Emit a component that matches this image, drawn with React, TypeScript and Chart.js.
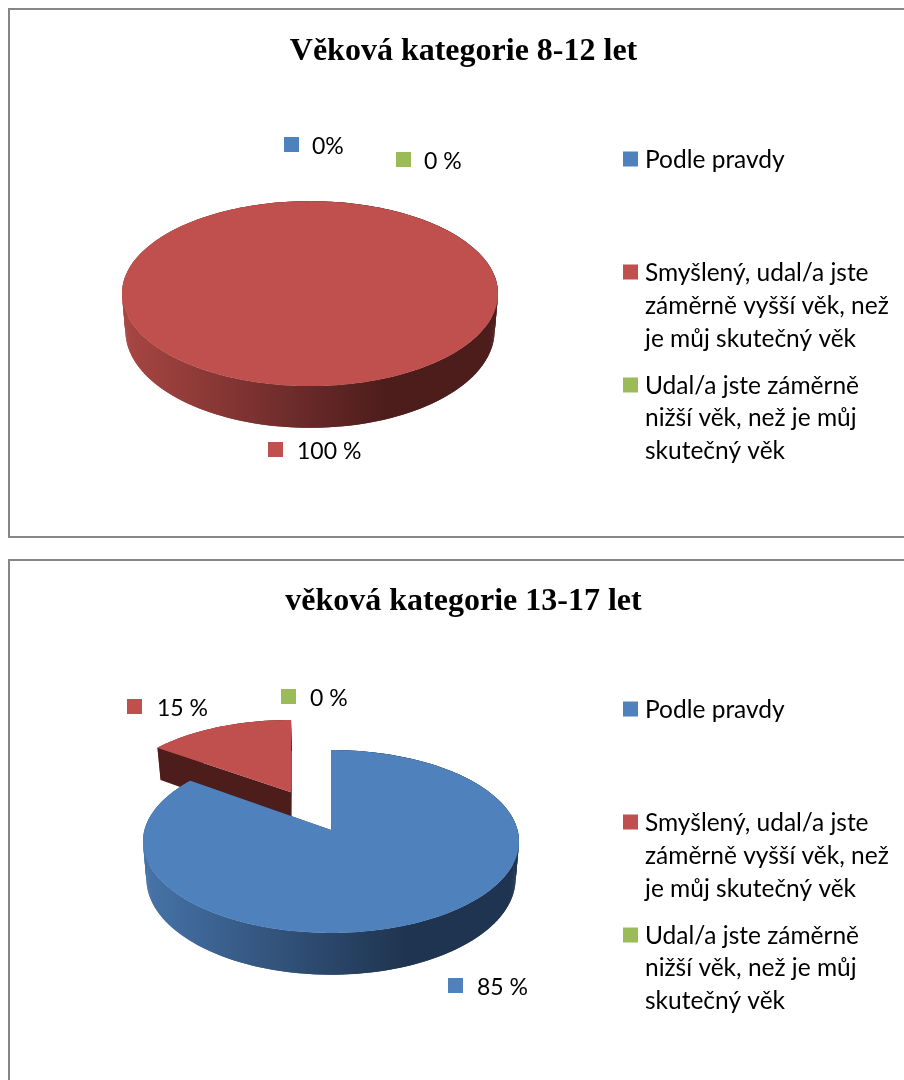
import React, { useEffect, useRef } from "react";
import { Chart, registerables } from "chart.js";

Chart.register(...registerables);

// ---------- data ----------
const categories = [
  "Podle pravdy",
  "Smyšlený, udal/a jste záměrně vyšší věk, než je můj skutečný věk",
  "Udal/a jste záměrně nižší věk, než je můj skutečný věk",
];
const legendLines = [
  ["Podle pravdy"],
  ["Smyšlený, udal/a jste", "záměrně vyšší věk, než", "je můj skutečný věk"],
  ["Udal/a jste záměrně", "nižší věk, než je můj", "skutečný věk"],
];
const valuesA = [0, 100, 0];
const valuesB = [85, 15, 0];
const labelsA = ["0%", "100 %", "0 %"];
const labelsB = ["85 %", "15 %", "0 %"];
const titleA = "Věková kategorie 8-12 let";
const titleB = "věková kategorie 13-17 let";

// ---------- styles and layout ----------
const topColors = ["#4f81bd", "#c0504d", "#9bbb59"];
const rimLight = ["#4673a8", "#a84643", "#8aa64f"];
const rimDark = ["#1f3450", "#4d1d1c", "#4f5f2d"];
const FONT = "Lato, 'Open Sans', sans-serif";
const LABEL_PX = 23;
const LEGEND_PX = 24.5;
const TITLE_FONT = "bold 32px 'Liberation Serif', serif";
const TITLE_CENTER_X = 463.5;
const TITLE_BASELINE = 59.5;
const BOX = 15;

const CANVAS_W = 909;
const CANVAS_LEFT = 9;

const labelPosA = [[284, 137, 312], [268, 442, 297], [396, 152, 424]];
const labelPosB = [[448, 978, 477], [127, 699, 157], [281, 689, 310]];
const legendYs = [159, 272, 305, 338, 385, 417, 450];

type Cfg = {
  top: number;
  height: number;
  cx: number;
  cy: number;
  yRadius: number;
  title: string;
  values: number[];
  labels: string[];
  labelPos: number[][];
  offsets: number[];
  legendShift: number;
};

const RADIUS = 186.5;
const PERSPECTIVE = -0.1257;
const DEPTH = 36.5;
const BOTTOM_X_SCALE = 0.982;

const charts: Cfg[] = [
  { top: 0, height: 550, cx: 310, cy: 282, yRadius: 91, title: titleA, values: valuesA, labels: labelsA, labelPos: labelPosA, offsets: [0, 0, 0], legendShift: 0 },
  { top: 550, height: 530, cx: 331, cy: 830, yRadius: 90, title: titleB, values: valuesB, labels: labelsB, labelPos: labelPosB, offsets: [0, 93, 0], legendShift: 550 },
];

function tiltPlugin(cfg: Cfg) {
  return {
    id: "tilt",
    beforeDatasetDraw(chart: any, args: any) {
      const ctx = chart.ctx as CanvasRenderingContext2D;
      const meta = args.meta;
      const order = meta.data
        .map((arc: any, i: number) => ({ arc, i }))
        .filter((o: any) => o.arc.circumference > 0)
        .sort((a: any, b: any) => b.arc.options.offset - a.arc.options.offset);

      for (const { arc, i } of order) {
        const R = arc.outerRadius;
        const mid = (arc.startAngle + arc.endAngle) / 2;
        const ox = Math.cos(mid) * arc.options.offset;
        const oy = Math.sin(mid) * arc.options.offset;
        const k = cfg.yRadius / R;
        const wApex = 1 + (PERSPECTIVE * oy) / R;
        const proj = (rx: number, ry: number) => {
          const dy = oy + ry;
          const w = 1 + (PERSPECTIVE * dy) / R;
          return { x: arc.x + ox / wApex + rx / w, y: arc.y + (k * dy) / w, w };
        };
        const low = (p: { x: number; y: number; w: number }) => ({
          x: arc.x + (p.x - arc.x) * BOTTOM_X_SCALE,
          y: p.y + DEPTH / p.w,
        });
        const steps = Math.max(8, Math.ceil(arc.circumference * 60));
        const rimTop: any[] = [];
        for (let s = 0; s <= steps; s++) {
          const a = arc.startAngle + ((arc.endAngle - arc.startAngle) * s) / steps;
          rimTop.push(proj(Math.cos(a) * R, Math.sin(a) * R));
        }
        const apex = proj(0, 0);
        const isFull = arc.circumference >= Math.PI * 2 - 1e-6;

        // outer rim, as overlapping strips so no seams show
        const grad = ctx.createLinearGradient(arc.x - R, 0, arc.x + R, 0);
        grad.addColorStop(0, rimLight[i]);
        grad.addColorStop(0.7, rimDark[i]);
        grad.addColorStop(1, rimDark[i]);
        ctx.fillStyle = grad;
        for (let n = 0; n < rimTop.length - 1; n++) {
          const p = rimTop[n];
          const q = rimTop[Math.min(n + 2, rimTop.length - 1)];
          const p2 = low(p);
          const q2 = low(q);
          ctx.beginPath();
          ctx.moveTo(p.x, p.y);
          ctx.lineTo(q.x, q.y);
          ctx.lineTo(q2.x, q2.y);
          ctx.lineTo(p2.x, p2.y);
          ctx.closePath();
          ctx.fill();
        }

        // cut faces
        if (!isFull) {
          ctx.fillStyle = rimDark[i];
          for (const edge of [rimTop[0], rimTop[rimTop.length - 1]]) {
            const a2 = low(apex);
            const e2 = low(edge);
            ctx.beginPath();
            ctx.moveTo(apex.x, apex.y);
            ctx.lineTo(edge.x, edge.y);
            ctx.lineTo(e2.x, e2.y);
            ctx.lineTo(a2.x, a2.y);
            ctx.closePath();
            ctx.fill();
          }
        }

        // top face
        ctx.fillStyle = arc.options.backgroundColor;
        ctx.beginPath();
        if (!isFull) ctx.moveTo(apex.x, apex.y);
        rimTop.forEach((p, n) => (n || !isFull ? ctx.lineTo(p.x, p.y) : ctx.moveTo(p.x, p.y)));
        ctx.closePath();
        ctx.fill();
      }
      return false;
    },
    afterDraw(chart: any) {
      const ctx = chart.ctx as CanvasRenderingContext2D;
      ctx.save();
      const sx = (x: number) => x - CANVAS_LEFT;
      const sy = (y: number) => y - cfg.top;

      // title
      ctx.fillStyle = "#000000";
      ctx.font = TITLE_FONT;
      ctx.textAlign = "center";
      ctx.textBaseline = "alphabetic";
      ctx.fillText(cfg.title, sx(TITLE_CENTER_X), TITLE_BASELINE);

      ctx.textBaseline = "middle";
      ctx.textAlign = "left";

      // data labels
      ctx.font = `${LABEL_PX}px ${FONT}`;
      cfg.labels.forEach((t, i) => {
        const [bx, by, tx] = cfg.labelPos[i];
        ctx.fillStyle = topColors[i];
        ctx.fillRect(sx(bx), sy(by), BOX, BOX);
        ctx.fillStyle = "#000000";
        ctx.fillText(t, sx(tx), sy(by) + BOX / 2 + 2);
      });

      // legend
      ctx.font = `${LEGEND_PX}px ${FONT}`;
      let row = 0;
      categories.forEach((_, i) => {
        legendLines[i].forEach((line, n) => {
          const y = legendYs[row] + cfg.legendShift;
          if (n === 0) {
            ctx.fillStyle = topColors[i];
            ctx.fillRect(sx(623), sy(y) - 7.5, BOX, BOX);
          }
          ctx.fillStyle = "#000000";
          ctx.fillText(line, sx(645), sy(y) + 1);
          row++;
        });
      });
      ctx.restore();
    },
  };
}

function PieCanvas({ cfg }: { cfg: Cfg }) {
  const ref = useRef<HTMLCanvasElement>(null);
  useEffect(() => {
    const localCy = cfg.cy - cfg.top;
    const localCx = cfg.cx - CANVAS_LEFT;
    const chart = new Chart(ref.current as HTMLCanvasElement, {
      type: "pie",
      data: {
        labels: categories,
        datasets: [
          {
            data: cfg.values,
            backgroundColor: topColors,
            borderWidth: 0,
            offset: cfg.offsets,
            radius: RADIUS,
          } as any,
        ],
      },
      options: {
        animation: false,
        responsive: false,
        layout: {
          padding: {
            left: 0,
            top: Math.max(0, 2 * localCy - cfg.height),
            right: CANVAS_W - 2 * localCx,
            bottom: Math.max(0, cfg.height - 2 * localCy),
          },
        },
        plugins: {
          legend: { display: false },
          tooltip: { enabled: false },
        },
      },
      plugins: [tiltPlugin(cfg)],
    });
    return () => chart.destroy();
  }, [cfg]);
  return (
    <canvas
      ref={ref}
      width={CANVAS_W}
      height={cfg.height}
      style={{ position: "absolute", left: CANVAS_LEFT, top: cfg.top, width: CANVAS_W, height: cfg.height }}
    />
  );
}

export default function App() {
  const frame: React.CSSProperties = {
    position: "absolute",
    left: 8,
    width: 1000,
    border: "2px solid #868686",
    boxSizing: "border-box",
    background: "#ffffff",
  };
  return (
    <div style={{ position: "absolute", left: 0, top: 0, width: 904, height: 1080, overflow: "hidden", background: "#ffffff" }}>
      <div style={{ ...frame, top: 8, height: 530 }} />
      <div style={{ ...frame, top: 559, height: 600 }} />
      {charts.map((c) => (
        <PieCanvas key={c.title} cfg={c} />
      ))}
    </div>
  );
}
